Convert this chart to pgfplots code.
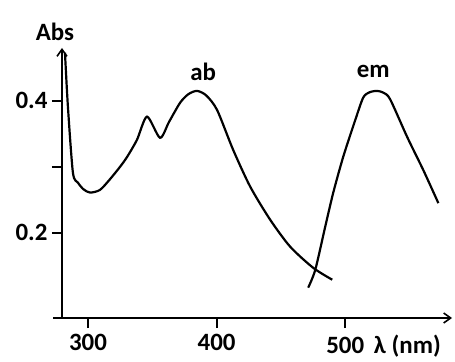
\documentclass[border=0pt]{standalone}
\usepackage{fontspec}
\setmainfont{Carlito}
\usepackage{pgfplots}
\pgfplotsset{compat=1.18}
\usetikzlibrary{arrows.meta}
\begin{document}
\begin{tikzpicture}
\useasboundingbox (-62bp,-44bp) rectangle (393bp,318bp);
\begin{axis}[
  at={(0,0)}, anchor=south west,
  scale only axis, width=390bp, height=270bp,
  xmin=279.8, xmax=583, ymin=0.071, ymax=0.48,
  axis lines=left,
  axis line style={line width=2pt, -{Straight Barb[length=7pt,width=10pt,line width=1.6pt]}},
  clip=false,
  xtick={300,400,500},
  xticklabels={300,400,500\rlap{ \,λ (nm)}},
  ytick={0.2,0.3,0.4},
  yticklabels={0.2,,0.4},
  xtick align=outside, ytick align=outside,
  major tick length=10bp,
  every tick/.style={line width=1.8pt, black},
  major tick style={line width=1.8pt, black},
  /pgf/number format/assume math mode=true,
  tick label style={font=\bfseries\fontsize{25}{28}\selectfont},
  xticklabel style={yshift=-3bp},
  yticklabel style={xshift=-1bp},
]
\addplot[black, line width=2.2pt, smooth, tension=0.45] coordinates {
(282.1,0.473) (284.4,0.391) (288.3,0.291) (292.2,0.276) (296.5,0.266) (301.6,0.261)
(309.3,0.265) (317,0.281) (324.9,0.300) (330.4,0.315) (338.1,0.341) (345.9,0.376)
(356.0,0.344) (363,0.368) (371.6,0.397) (378,0.410) (384.8,0.415) (392,0.408) (400.4,0.386)
(412.8,0.326) (426.1,0.270) (441.6,0.220) (457.2,0.179) (475.1,0.147) (489.9,0.129)
};
\addplot[black, line width=2.2pt, smooth, tension=0.45] coordinates {
(471.2,0.117) (476.7,0.144) (484.4,0.209) (490.7,0.261) (498.4,0.315) (507.8,0.371)
(514.0,0.405) (519,0.413) (524.9,0.415) (530,0.412) (535.0,0.402) (548.2,0.345)
(560.7,0.295) (572.4,0.245)
};
\draw[line width=2pt] (rel axis cs:-0.023,0) -- (rel axis cs:0,0);
\node[font=\bfseries\fontsize{25}{28}\selectfont] at (axis cs:389.5,0.444) {ab};
\node[font=\bfseries\fontsize{25}{28}\selectfont] at (axis cs:521.8,0.444) {em};
\node[font=\bfseries\fontsize{25}{28}\selectfont] at (axis cs:274.3,0.505) {Abs};
\end{axis}
\end{tikzpicture}
\end{document}
